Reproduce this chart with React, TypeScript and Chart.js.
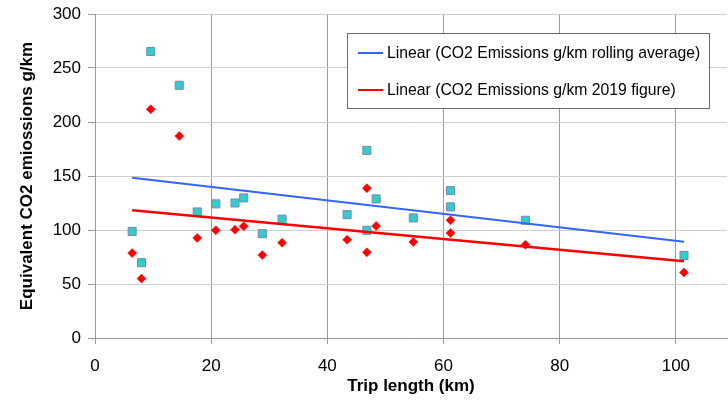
import React, { useEffect, useRef } from 'react';
import { Chart, registerables } from 'chart.js';

Chart.register(...registerables);

// Trip length (km) for each trip
const tripLengthKm = [6.4, 8.0, 9.6, 14.5, 17.6, 20.8, 24.1, 25.6, 28.8, 32.2, 43.4, 46.8, 46.8, 48.4, 54.8, 61.2, 61.2, 74.1, 101.4];
// CO2 Emissions g/km rolling average
const rollingAverage = [98.7, 69.7, 265.3, 234, 116.7, 124.2, 125, 129.7, 96.6, 110, 114.2, 173.7, 99.7, 128.8, 111.2, 136.5, 121.4, 109, 76.5];
// CO2 Emissions g/km 2019 figure
const figure2019 = [78.6, 55, 211.8, 187, 92.6, 99.7, 100.3, 103.4, 76.8, 88.2, 91, 138.7, 79.3, 103.7, 88.9, 109, 97.2, 86.4, 60.7];

const legendLabels = [
  'Linear (CO2 Emissions g/km rolling average)',
  'Linear (CO2 Emissions g/km 2019 figure)',
];
const xTitle = 'Trip length (km)';
const yTitle = 'Equivalent CO2 emiossions g/km';
const xMin = 0;
const xMax = 108.8;
const xStep = 20;
const yMin = 0;
const yMax = 300;
const yStep = 50;

const BLUE = '#3366ff';
const RED = '#ff0000';
const FONT = '"Liberation Sans", Arial, sans-serif';

function linearFit(xs: number[], ys: number[]) {
  const n = xs.length;
  const mx = xs.reduce((a, b) => a + b, 0) / n;
  const my = ys.reduce((a, b) => a + b, 0) / n;
  let sxy = 0;
  let sxx = 0;
  for (let i = 0; i < n; i++) {
    sxy += (xs[i] - mx) * (ys[i] - my);
    sxx += (xs[i] - mx) * (xs[i] - mx);
  }
  const slope = sxy / sxx;
  const icpt = my - slope * mx;
  const lo = Math.min(...xs);
  const hi = Math.max(...xs);
  return [
    { x: lo, y: icpt + slope * lo },
    { x: hi, y: icpt + slope * hi },
  ];
}

const legendBoxPlugin = {
  id: 'legendBox',
  afterDraw(chart: any) {
    const ctx = chart.ctx;
    const x = 347.5;
    const y = 33.5;
    const w = 362;
    const h = 75;
    ctx.save();
    ctx.fillStyle = '#ffffff';
    ctx.fillRect(x, y, w, h);
    ctx.strokeStyle = '#6b6b6b';
    ctx.lineWidth = 1;
    ctx.strokeRect(x, y, w, h);
    const colors = [BLUE, RED];
    const rows = [53, 90];
    ctx.font = '15.75px ' + FONT;
    ctx.textBaseline = 'middle';
    ctx.textAlign = 'left';
    legendLabels.forEach((lab, i) => {
      ctx.strokeStyle = colors[i];
      ctx.lineWidth = 2;
      ctx.beginPath();
      ctx.moveTo(358, rows[i]);
      ctx.lineTo(383, rows[i]);
      ctx.stroke();
      ctx.fillStyle = '#000000';
      ctx.fillText(lab, 387, rows[i] + 1);
    });
    ctx.restore();
  },
};

export default function App() {
  const ref = useRef<HTMLCanvasElement | null>(null);

  useEffect(() => {
    document.body.style.margin = '0';
    const canvas = ref.current;
    if (!canvas) return;
    const cyanPts = tripLengthKm.map((x, i) => ({ x, y: rollingAverage[i] }));
    const redPts = tripLengthKm.map((x, i) => ({ x, y: figure2019[i] }));
    const chart = new Chart(canvas, {
      type: 'scatter',
      data: {
        datasets: [
          {
            label: legendLabels[0],
            data: linearFit(tripLengthKm, rollingAverage),
            showLine: true,
            borderColor: BLUE,
            borderWidth: 2,
            pointRadius: 0,
            fill: false,
          },
          {
            label: legendLabels[1],
            data: linearFit(tripLengthKm, figure2019),
            showLine: true,
            borderColor: RED,
            borderWidth: 2.5,
            pointRadius: 0,
            fill: false,
          },
          {
            label: 'CO2 Emissions g/km rolling average',
            data: cyanPts,
            pointStyle: 'rect',
            pointRadius: 5.7,
            backgroundColor: '#33cccc',
            borderColor: '#7b86b0',
            borderWidth: 1,
          },
          {
            label: 'CO2 Emissions g/km 2019 figure',
            data: redPts,
            pointStyle: 'rectRot',
            pointRadius: 4.5,
            backgroundColor: RED,
            borderColor: RED,
            borderWidth: 0.5,
          },
        ],
      },
      options: {
        responsive: false,
        animation: false,
        devicePixelRatio: 1,
        layout: { autoPadding: false, padding: { left: 0, top: 14, right: 1, bottom: 0 } },
        plugins: {
          legend: { display: false },
          tooltip: { enabled: false },
        },
        scales: {
          x: {
            type: 'linear',
            min: xMin,
            max: xMax,
            afterBuildTicks: (s: any) => {
              s.ticks = s.ticks.filter(
                (t: any) => Math.abs(t.value / xStep - Math.round(t.value / xStep)) < 1e-6
              );
            },
            afterFit: (s: any) => {
              s.height = 63;
              s.paddingLeft = 0;
              s.paddingRight = 0;
            },
            ticks: {
              stepSize: xStep,
              includeBounds: false,
              color: '#000',
              font: { family: FONT, size: 17 },
              padding: 12,
              maxRotation: 0,
              autoSkip: false,
            },
            grid: { color: '#9a9a9a', tickColor: '#9a9a9a', tickLength: 6 },
            border: { color: '#9a9a9a' },
            title: {
              display: true,
              text: xTitle,
              color: '#000',
              font: { family: FONT, size: 17, weight: 'bold' },
              padding: { top: 0, bottom: 4 },
            },
          },
          y: {
            type: 'linear',
            min: yMin,
            max: yMax,
            afterFit: (s: any) => {
              s.width = 95;
              s.paddingTop = 0;
              s.paddingBottom = 0;
            },
            ticks: {
              stepSize: yStep,
              color: '#000',
              font: { family: FONT, size: 17 },
              padding: 7,
            },
            grid: { color: '#cfcfcf', tickColor: '#9a9a9a', tickLength: 7 },
            border: { color: '#9a9a9a' },
            title: {
              display: true,
              text: yTitle,
              color: '#000',
              font: { family: FONT, size: 17, weight: 'bold' },
              padding: { top: 17, bottom: 0 },
            },
          },
        },
      },
      plugins: [legendBoxPlugin],
    } as any);
    return () => chart.destroy();
  }, []);

  return (
    <div style={{ position: 'absolute', left: 0, top: 0, width: 728, height: 401 }}>
      <canvas ref={ref} width={728} height={401} style={{ width: 728, height: 401 }} />
    </div>
  );
}
